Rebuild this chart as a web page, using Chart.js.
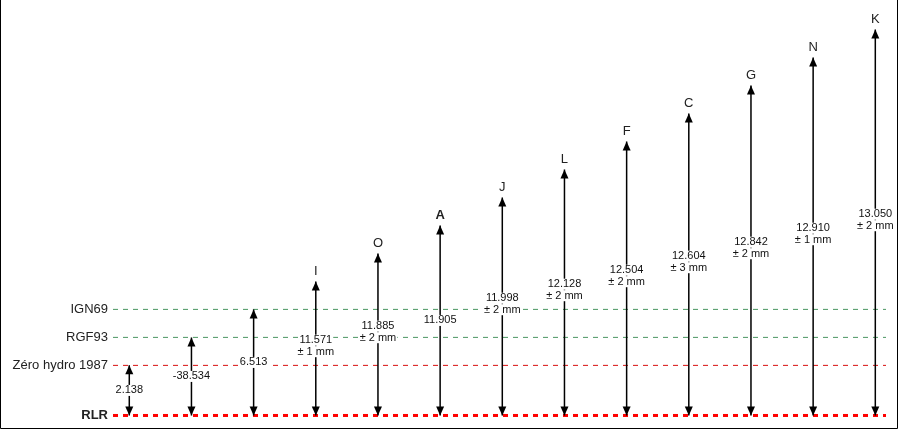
<!DOCTYPE html>
<html>
<head>
<meta charset="utf-8">
<script src="https://cdn.jsdelivr.net/npm/chart.js@4"></script>
<style>
  html, body { margin: 0; padding: 0; background: #fff; }
  #wrap { width: 900px; height: 430px; position: relative; }
</style>
</head>
<body>
<div id="wrap"><canvas id="c"></canvas></div>
<script>
// ---- data (schematic levels) ----
const topLabels  = ['', '', '', 'I', 'O', 'A', 'J', 'L', 'F', 'C', 'G', 'N', 'K'];
const values     = ['2.138', '-38.534', '6.513', '11.571', '11.885', '11.905', '11.998', '12.128', '12.504', '12.604', '12.842', '12.910', '13.050'];
const tolerances = ['', '', '', '± 1 mm', '± 2 mm', '', '± 2 mm', '± 2 mm', '± 2 mm', '± 3 mm', '± 2 mm', '± 1 mm', '± 2 mm'];
const tops       = [1.79, 2.79, 3.79, 4.79, 5.79, 6.79, 7.79, 8.79, 9.79, 10.79, 11.79, 12.79, 13.79];
const refNames   = ['RLR', 'Zéro hydro 1987', 'RGF93', 'IGN69'];
const refLevels  = [0, 1.79, 2.79, 3.79];
const boldLabel  = 'A';

const X_MIN = -0.262, X_MAX = 12.172;
const FONT = "'Liberation Sans', Arial, sans-serif";

// shaft segments separated by gaps
const shaftData = [];
tops.forEach((t, i) => {
  shaftData.push({x: i, y: 0}, {x: i, y: t}, {x: i, y: null});
});

function refLine(level, color, width) {
  return {
    type: 'line',
    data: [{x: X_MIN, y: level}, {x: X_MAX, y: level}],
    borderColor: color,
    borderWidth: width,
    borderDash: [5, 5],
    pointRadius: 0,
    tension: 0,
    clip: false
  };
}

const arrowPlugin = {
  id: 'arrows',
  afterDatasetsDraw(chart) {
    const ctx = chart.ctx;
    const xs = chart.scales.x, ys = chart.scales.y;
    const base = ys.getPixelForValue(0);
    ctx.save();
    tops.forEach((t, i) => {
      const px = xs.getPixelForValue(i);
      const py = ys.getPixelForValue(t);
      ctx.fillStyle = '#000';
      // up head
      ctx.beginPath();
      ctx.moveTo(px, py);
      ctx.lineTo(px - 4, py + 9);
      ctx.lineTo(px + 4, py + 9);
      ctx.closePath();
      ctx.fill();
      // down head
      ctx.beginPath();
      ctx.moveTo(px, base);
      ctx.lineTo(px - 4, base - 9);
      ctx.lineTo(px + 4, base - 9);
      ctx.closePath();
      ctx.fill();

      // top letter
      if (topLabels[i]) {
        ctx.font = (topLabels[i] === boldLabel ? 'bold ' : '') + '13px ' + FONT;
        ctx.fillStyle = '#222';
        ctx.textAlign = 'center';
        ctx.textBaseline = 'middle';
        ctx.fillText(topLabels[i], px, py - 10);
      }

      // value label(s)
      const lines = tolerances[i] ? [values[i], tolerances[i]] : [values[i]];
      const mid = (py + base) / 2;
      const lh = 11.5;
      const c0 = lines.length === 2 ? mid - 2.5 - lh / 2 : mid;
      ctx.font = '11px ' + FONT;
      ctx.textAlign = 'center';
      ctx.textBaseline = 'middle';
      lines.forEach((s, k) => {
        const cy = c0 + k * lh;
        const w = ctx.measureText(s).width;
        ctx.fillStyle = '#fff';
        ctx.fillRect(px - w / 2 - 1, cy - 5.5, w + 2, 11);
        ctx.fillStyle = '#111';
        ctx.fillText(s, px, cy);
      });
    });
    ctx.restore();
  },
  afterDraw(chart) {
    const ctx = chart.ctx;
    ctx.save();
    ctx.strokeStyle = '#000';
    ctx.lineWidth = 1;
    ctx.beginPath();
    ctx.moveTo(0.5, 0);
    ctx.lineTo(0.5, 428.5);
    ctx.lineTo(897.5, 428.5);
    ctx.lineTo(897.5, 0);
    ctx.stroke();
    ctx.restore();
  }
};

new Chart(document.getElementById('c'), {
  type: 'line',
  data: {
    datasets: [
      {
        data: shaftData,
        borderColor: '#000',
        borderWidth: 1.5,
        pointRadius: 0,
        spanGaps: false,
        tension: 0,
        clip: false
      },
      refLine(refLevels[0], '#ff0000', 3),
      refLine(refLevels[1], '#d81010', 1),
      refLine(refLevels[2], '#4a9662', 1),
      refLine(refLevels[3], '#4a9662', 1)
    ]
  },
  options: {
    responsive: true,
    maintainAspectRatio: false,
    animation: false,
    events: [],
    layout: { padding: { left: 0, right: 14, top: 16, bottom: 5 } },
    plugins: { legend: { display: false }, tooltip: { enabled: false } },
    scales: {
      x: { type: 'linear', min: X_MIN, max: X_MAX, display: false },
      y: {
        type: 'linear',
        min: -0.34,
        max: 14.27,
        afterBuildTicks(scale) { scale.ticks = refLevels.map(v => ({ value: v })); },
        afterFit(scale) {
          scale.width = 113;
          scale.paddingTop = 0;
          scale.paddingBottom = 0;
        },
        grid: { display: false, drawTicks: false },
        border: { display: false },
        ticks: {
          padding: 5,
          color: '#222',
          autoSkip: false,
          callback: (v, idx) => refNames[idx],
          font: (ctx) => ({ family: FONT, size: 13, weight: ctx.index === 0 ? 'bold' : 'normal' })
        }
      }
    }
  },
  plugins: [arrowPlugin]
});
</script>
</body>
</html>
